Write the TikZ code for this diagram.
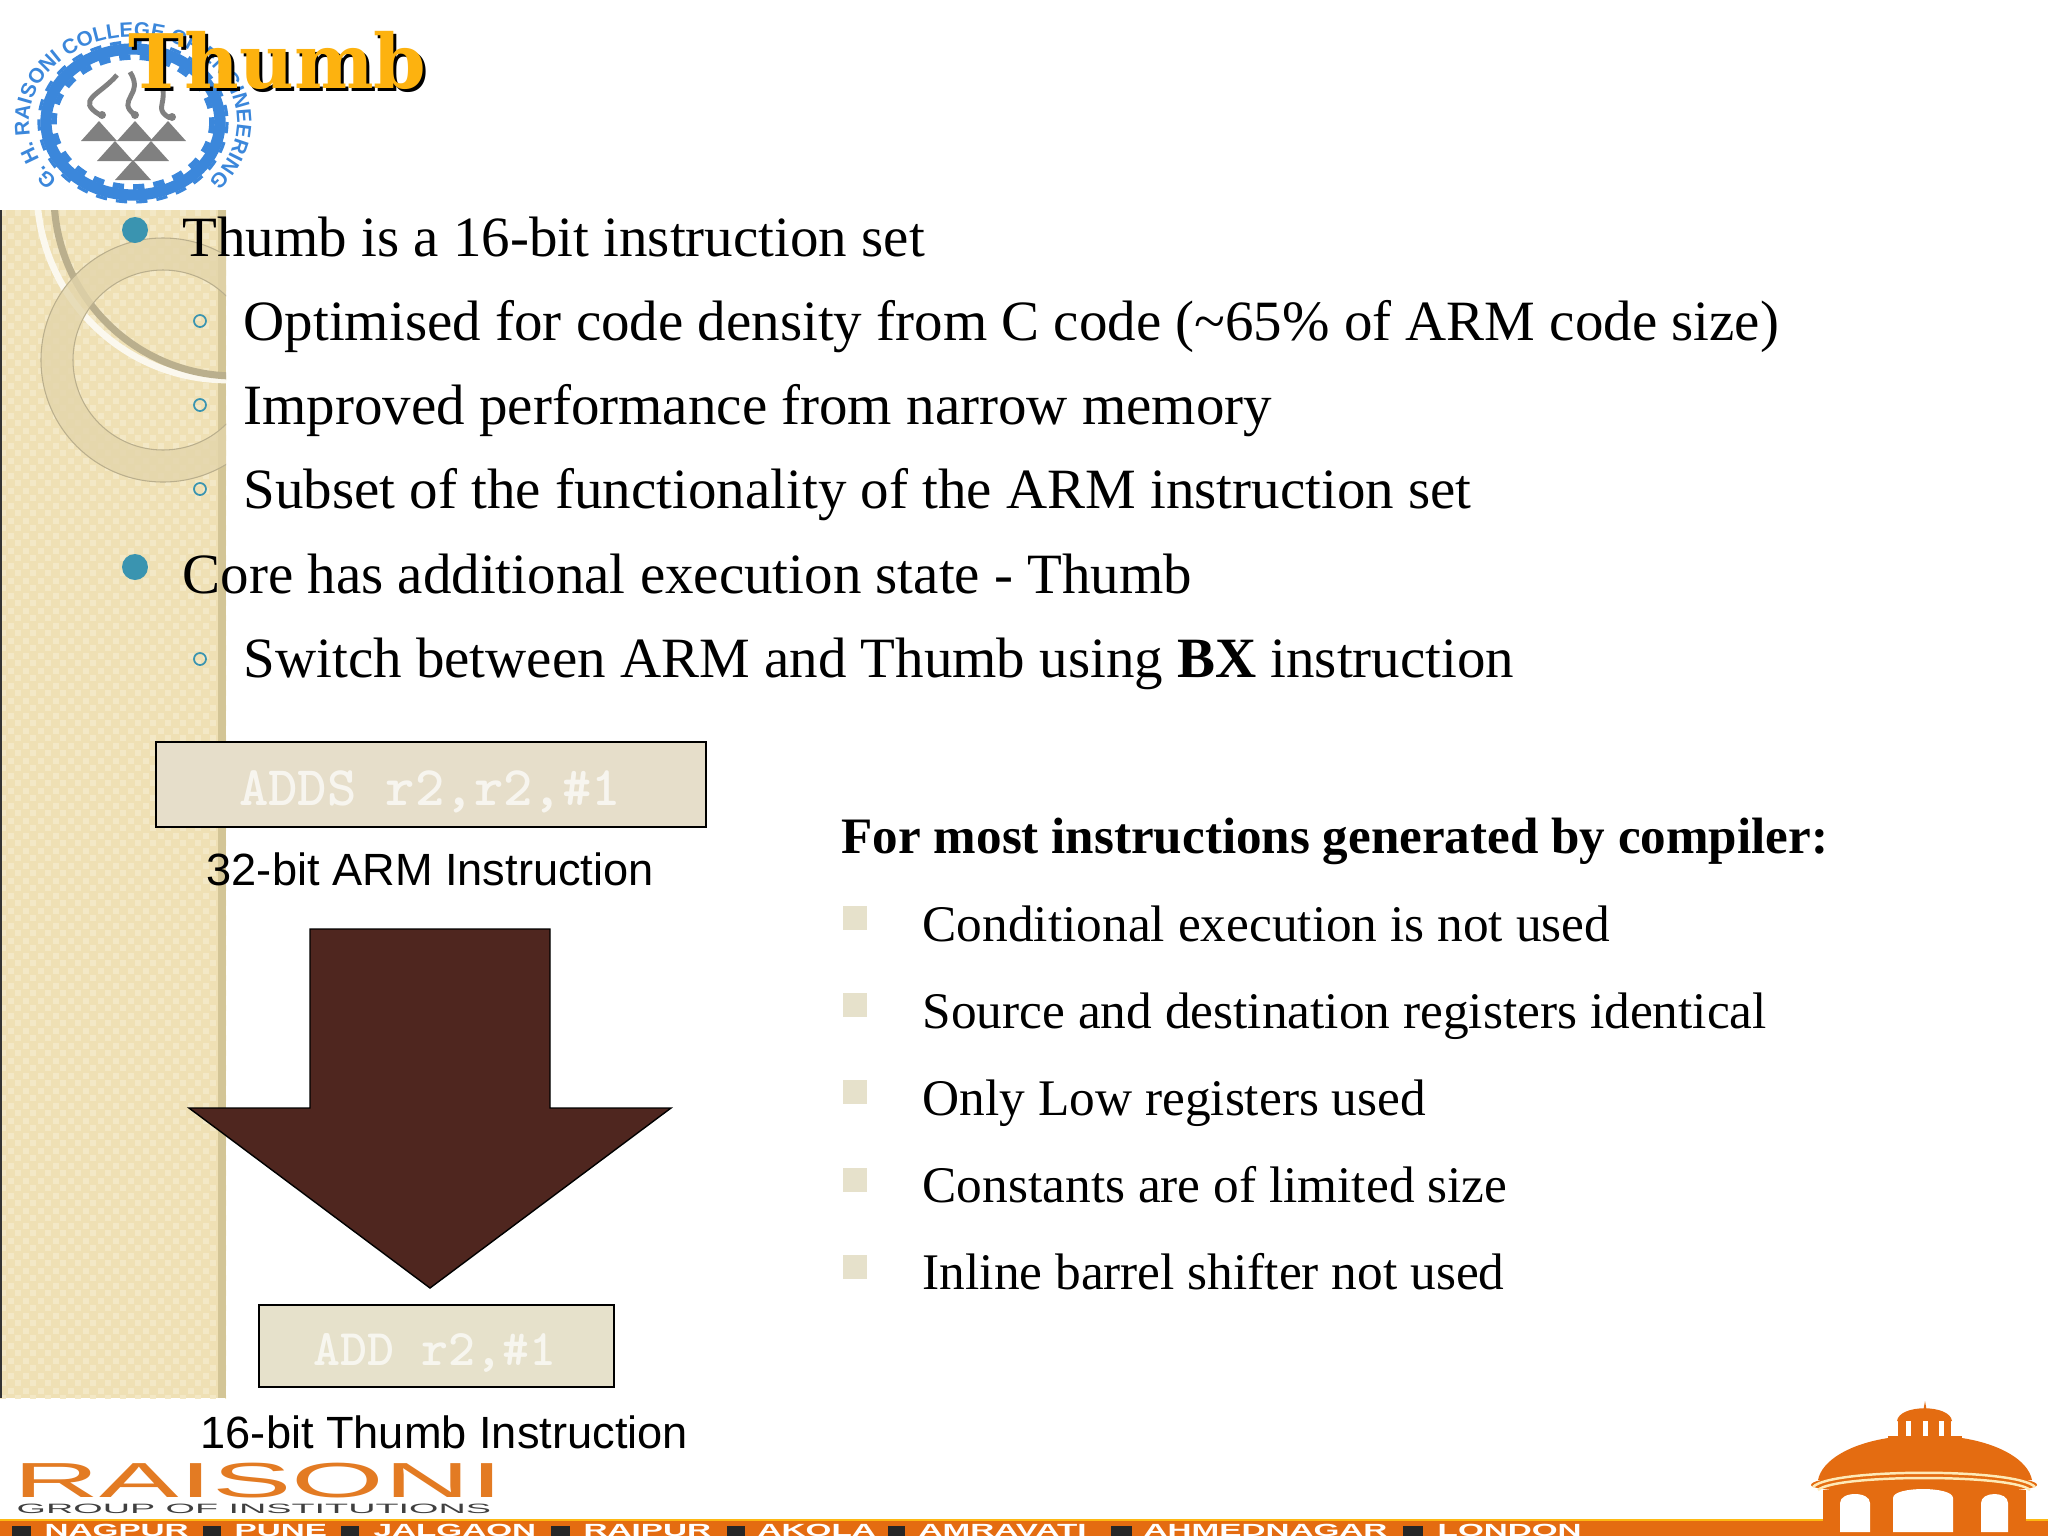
\documentclass[tikz,border=0pt]{standalone}
\usepackage{xcolor}
\usepackage{fontspec}
\usepackage{tikz}
\usetikzlibrary{calc}
\usetikzlibrary{positioning,decorations.text}
\setmainfont{Liberation Serif}
\setsansfont{Liberation Sans}
\newfontfamily\titlefont{DejaVu Serif}
\definecolor{sandbar}{HTML}{EFE0B4}
\definecolor{sandlight}{HTML}{F3E8C6}
\definecolor{sandedge}{HTML}{D3C596}
\definecolor{boxtan}{HTML}{E6DECA}
\definecolor{boxkhaki}{HTML}{E6E1CB}
\definecolor{arrowbrown}{HTML}{4F261F}
\definecolor{bullteal}{HTML}{3A94B0}
\definecolor{gearblue}{HTML}{3B87DB}
\definecolor{titlegold}{HTML}{FDB20F}
\definecolor{bandorange}{HTML}{E46C11}
\definecolor{bandyellow}{HTML}{FDB913}
\definecolor{raisonorange}{HTML}{E37B23}
\tikzset{
	bodyline/.style={anchor=base west,inner sep=0pt,font=\fontsize{16.2}{19}\selectfont},
	listline/.style={anchor=base west,inner sep=0pt,font=\fontsize{14.6}{17}\selectfont},
	codeline/.style={inner sep=0pt,text=white,opacity=0.7,font=\ttfamily\bfseries\fontsize{#1}{18}\selectfont},
	captionline/.style={anchor=base west,inner sep=0pt,font=\sffamily\fontsize{12.85}{15}\selectfont},
	cityname/.style={anchor=base west,inner sep=0pt,text=white,font=\sffamily\bfseries\fontsize{5}{6}\selectfont},
	bigdot/.style={fill=bullteal},
	ringdot/.style={draw=bullteal,line width=0.5pt},
	listsquare/.style={fill=boxkhaki},
}
\newcommand{\wide}[2]{\scalebox{#1}[1]{#2}}
\begin{document}
\begin{tikzpicture}[x=0.01cm,y=-0.01cm]
	\useasboundingbox (0,0) rectangle (2048,1536);
	\fill[white] (0,0) rectangle (2048,1536);
	% Side bar with its weave
	\begin{scope}
		\clip (0,210) rectangle (226,1398);
		\fill[sandbar] (0,210) rectangle (226,1398);
		\foreach \j in {0,...,160}{
			\foreach \i in {0,...,15}{
				\pgfmathsetmacro{\x}{\i*15+mod(\j,2)*7.5}
				\pgfmathsetmacro{\y}{210+\j*7.5}
				\fill[sandlight] (\x,\y) rectangle +(6,6);
			}
		}
		\fill[sandedge] (218,210) rectangle (226,1398);
		\fill[black!80] (0,210) rectangle (2,1398);
		% Swooshes and the ring
		\draw[white!70!sandlight,line width=1.9pt] (227,190) circle (190);
		\draw[black!22!sandbar,line width=2pt] (235,195) circle (181);
		\fill[even odd rule,fill=black!5!sandbar,fill opacity=0.8] (163,360) circle (122) (163,360) circle (90);
		\draw[black!22!sandbar,line width=0.3pt] (163,360) circle (122) (163,360) circle (90);
	\end{scope}
	% College crest
	\draw[gearblue,line width=3.2pt] (133,122) ellipse[x radius=87,y radius=73];
	\draw[gearblue,line width=1.6pt,dash pattern=on 3.2pt off 2.6pt] (133,122) ellipse[x radius=79,y radius=65];
	\draw[gearblue,line width=0.9pt,dash pattern=on 3.2pt off 2.6pt] (133,122) ellipse[x radius=94,y radius=80];
	\path[decorate,decoration={text along path,text align=center,
		text={|\sffamily\bfseries\fontsize{5.9}{6}\selectfont\color{gearblue}|G. H. RAISONI COLLEGE OF ENGINEERING}}]
		(66.2,187.1) arc[start angle=130,end angle=410,x radius=104,y radius=85];
	\foreach \xa/\ya in {99/121,135/121,168/121,115/141,151/141,133/160}{
		\fill[black!50] (\xa,\ya) -- ++(-18,20) -- ++(36,0) -- cycle;
	}
	\foreach \xa/\ya in {102/115,135/115,172/117}{
		\fill[black!50] (\xa,\ya) circle (4);
	}
	\draw[black!50,line width=1.4pt] (100,115) .. controls (75,100) and (100,95) .. (117,75);
	\draw[black!50,line width=1.4pt] (135,115) .. controls (115,100) and (145,95) .. (130,72);
	\draw[black!50,line width=1.4pt] (170,118) .. controls (155,110) and (165,105) .. (163,90);
	% Title with hard shadow
	\node[anchor=base west,inner sep=0pt,text=black,font=\titlefont\bfseries\fontsize{21.4}{26}\selectfont] (titleback) at (131,91) {Thumb};
	\node[anchor=base west,inner sep=0pt,text=titlegold,font=\titlefont\bfseries\fontsize{21.4}{26}\selectfont] (title) at (128,88) {Thumb};
	% Top bullets
	\fill[bigdot] (135,230) circle (13);
	\fill[bigdot] (135,567) circle (13);
	\foreach \y in {321,405,489,659}{
		\draw[ringdot] (200,\y) circle (6);
	}
	\node[bodyline] (lineA) at (182,256) {Thumb is a 16-bit instruction set};
	\node[bodyline] (lineB) at (243,340) {Optimised for code density from C code (\textasciitilde 65\% of ARM code size)};
	\node[bodyline] (lineC) at (243,424) {Improved performance from narrow memory};
	\node[bodyline] (lineD) at (243,508) {Subset of the functionality of the ARM instruction set};
	\node[bodyline] (lineE) at (182,593) {Core has additional execution state - Thumb};
	\node[bodyline] (lineF) at (243,677) {Switch between ARM and Thumb using \textbf{BX} instruction};
	% ARM to Thumb picture
	\node[draw=black,line width=0.7pt,fill=boxtan,minimum width=5.5cm,minimum height=0.85cm,inner sep=0pt] (armbox) at (431,784.5) {};
	\node[codeline=15.9] (armcode) at (430,792) {ADDS r2,r2,\#1};
	\node[captionline] (armcap) at (206,885) {32-bit ARM Instruction};
	\fill[arrowbrown,draw=black,line width=0.4pt] (310,929) -- (550,929) -- (550,1108) -- (671,1108) -- (430,1288) -- (189,1108) -- (310,1108) -- cycle;
	\node[draw=black,line width=0.7pt,fill=boxkhaki,minimum width=3.55cm,minimum height=0.82cm,inner sep=0pt] (thumbbox) at (436.5,1346) {};
	\node[codeline=14.6] (thumbcode) at (435,1353) {ADD r2,\#1};
	\node[captionline] (thumbcap) at (200,1448) {16-bit Thumb Instruction};
	% Right hand list
	\node[listline,font=\bfseries\fontsize{14.53}{17}\selectfont] (listhead) at (841,853) {For most instructions generated by compiler:};
	\foreach \n/\t in {0/Conditional execution is not used,1/Source and destination registers identical,2/Only Low registers used,3/Constants are of limited size,4/Inline barrel shifter not used}{
		\fill[listsquare] (843,906+\n*87.2) rectangle +(24,24);
		\node[listline] (item\n) at (922,941+\n*87.2) {\t};
	}
	% Footer
	\node[anchor=base west,inner sep=0pt,text=raisonorange,font=\sffamily\fontsize{14}{16}\selectfont] (raisoni) at (13,1497) {\wide{2.42}{RAISONI}};
	\node[anchor=base west,inner sep=0pt,text=black!75,font=\sffamily\fontsize{3.85}{5}\selectfont] (group) at (16,1513) {\wide{2.79}{GROUP OF INSTITUTIONS}};
	\fill[bandorange] (0,1520) rectangle (2048,1536);
	\fill[bandyellow] (0,1518.5) rectangle (2048,1521);
	\begin{scope}
		\clip (0,1520) rectangle (2048,1536);
		\foreach \xa/\xb in {12/31,203/221,341/359,551/570,727/745,888/905,1111/1132,1403/1423}{
			\fill[black!85] (\xa,1526) rectangle (\xb,1536);
		}
	\end{scope}
	\foreach \xa/\t in {44/NAGPUR,234/PUNE,373/JALGAON,583/RAIPUR,757/AKOLA,918/AMRAVATI,1143/AHMEDNAGAR,1437/LONDON}{
		\node[cityname] (city\t) at (\xa,1536) {\wide{1.89}{\t}};
	}
	% Dome
	\fill[bandorange] (1823,1536) -- (1823,1490) -- (2026,1490) -- (2026,1536) -- cycle;
	\fill[bandorange] (1818,1480) .. controls (1822,1460) and (1850,1444) .. (1888,1438) -- (1962,1438) .. controls (2000,1444) and (2028,1460) .. (2032,1480) -- cycle;
	\fill[bandorange] (1811,1485) .. controls (1811,1470) and (2037,1470) .. (2037,1485) .. controls (2037,1496) and (1811,1496) .. (1811,1485) -- cycle;
	\draw[white!70!bandyellow,line width=0.7pt] (1813,1487) .. controls (1830,1468) and (2018,1468) .. (2035,1487);
	\draw[white!70!bandyellow,line width=0.7pt] (1818,1490) .. controls (1835,1474) and (2013,1474) .. (2030,1490);
	\fill[bandorange] (1888,1436) rectangle (1962,1441);
	\fill[bandorange] (1898,1420) rectangle (1951,1437);
	\fill[bandorange] (1897,1421) .. controls (1899,1404) and (1950,1404) .. (1952,1421) -- cycle;
	\fill[bandorange] (1923,1412) -- (1925,1401) -- (1927,1412) -- cycle;
	\foreach \xa in {1906,1923,1939}{
		\fill[white] (\xa,1421) rectangle +(4.5,15);
	}
	\foreach \xa/\xb/\ya in {1840/1870/1493,1893/1953/1488,1981/2008/1493}{
		\fill[white] (\xa,1532) -- (\xa,\ya+10) .. controls (\xa,\ya-2) and (\xb,\ya-2) .. (\xb,\ya+10) -- (\xb,1532) -- cycle;
	}
\end{tikzpicture}
\end{document}
